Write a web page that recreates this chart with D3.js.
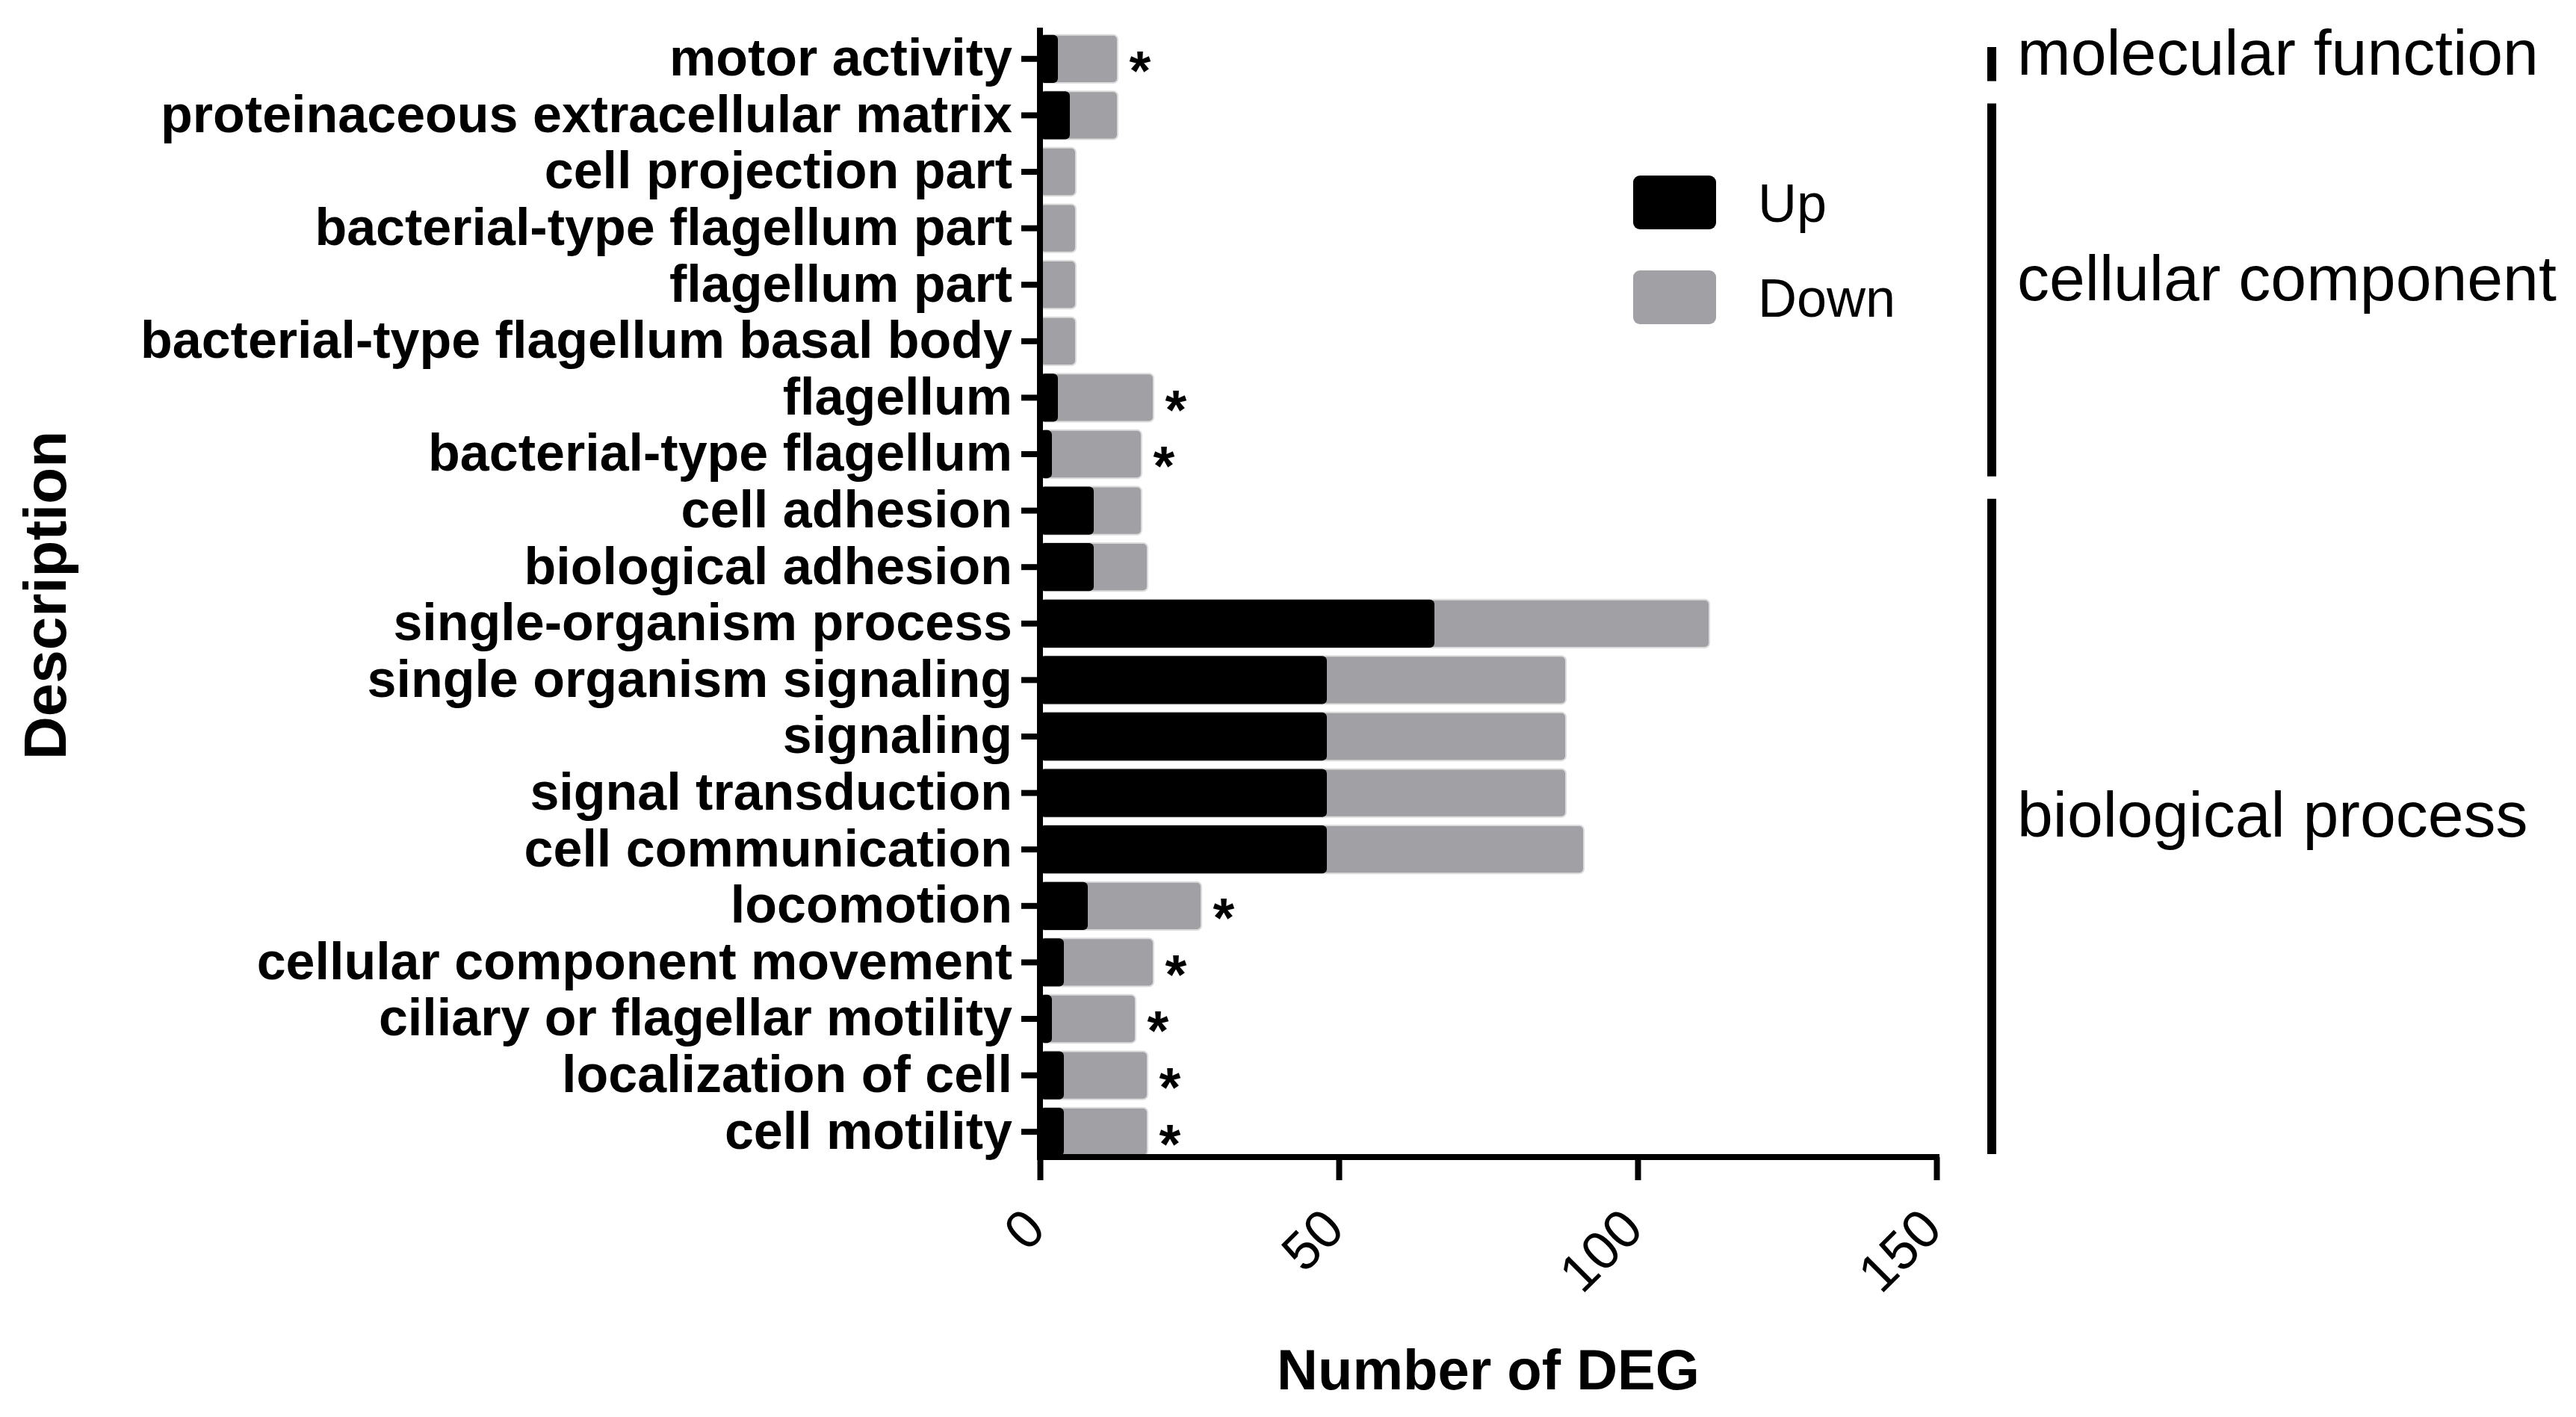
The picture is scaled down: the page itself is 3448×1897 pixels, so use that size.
<!DOCTYPE html>
<html>
<head>
<meta charset="utf-8">
<script src="https://cdn.jsdelivr.net/npm/d3@7"></script>
<style>
    body { margin: 0; background: #fff; }
    svg { display: block; }
</style>
</head>
<body>
<div id="chart"></div>
<script>
// GO terms, top to bottom
const categories = [
    "motor activity",
    "proteinaceous extracellular matrix",
    "cell projection part",
    "bacterial-type flagellum part",
    "flagellum part",
    "bacterial-type flagellum basal body",
    "flagellum",
    "bacterial-type flagellum",
    "cell adhesion",
    "biological adhesion",
    "single-organism process",
    "single organism signaling",
    "signaling",
    "signal transduction",
    "cell communication",
    "locomotion",
    "cellular component movement",
    "ciliary or flagellar motility",
    "localization of cell",
    "cell motility"
];
const upValues   = [3, 5, 0, 0, 0, 0, 3, 2, 9, 9, 66, 48, 48, 48, 48, 8, 4, 2, 4, 4];
const downValues = [10, 8, 6, 6, 6, 6, 16, 15, 8, 9, 46, 40, 40, 40, 43, 19, 15, 14, 14, 14];
const starred    = [1, 0, 0, 0, 0, 0, 1, 1, 0, 0, 0, 0, 0, 0, 0, 1, 1, 1, 1, 1];

const groupNames = ["molecular function", "cellular component", "biological process"];
const groupFirst = [0, 1, 8];
const groupLast  = [0, 7, 19];

const xTicks = [0, 50, 100, 150];
const seriesNames = ["Up", "Down"];
const seriesColors = ["#000000", "#a1a0a5"];

const W = 3448, H = 1897;
const font = "'Liberation Sans', Arial, Helvetica, sans-serif";

const svg = d3.select("#chart").append("svg")
    .attr("width", W)
    .attr("height", H)
    .style("font-family", font);

const x = d3.scaleLinear().domain([0, 150]).range([1392, 2592]);
const y = d3.scaleBand()
    .domain(categories)
    .range([41, 1553])
    .paddingInner(0.15)
    .paddingOuter(0.075);

const rows = categories.map((c, i) => ({
    name: c, up: upValues[i], down: downValues[i], star: starred[i]
}));
const stacked = d3.stack().keys(["up", "down"])(rows);

// bars: grey total first, black "up" part drawn over it
const barG = svg.append("g");
[stacked[1], stacked[0]].forEach((layer, k) => {
    const color = k === 0 ? seriesColors[1] : seriesColors[0];
    barG.append("g")
        .selectAll("rect")
        .data(layer.filter(d => d[1] > 0))
        .join("rect")
        .attr("x", x(0))
        .attr("y", d => y(d.data.name))
        .attr("width", d => x(d[1]) - x(0))
        .attr("height", y.bandwidth())
        .attr("rx", 6)
        .attr("fill", color)
        .attr("stroke", k === 0 ? "#dcdcdc" : "none")
        .attr("stroke-width", 2);
});

// significance stars
svg.append("g")
    .selectAll("text")
    .data(rows.filter(d => d.star))
    .join("text")
    .attr("x", d => x(d.up + d.down) + 30)
    .attr("y", d => y(d.name) + y.bandwidth() / 2)
    .attr("dy", "0.56em")
    .attr("text-anchor", "middle")
    .style("font-size", "74px")
    .style("font-weight", "bold")
    .text("*");

// y axis
const yAxis = svg.append("g")
    .attr("transform", `translate(${x(0)},0)`)
    .call(d3.axisLeft(y).tickSize(25).tickSizeOuter(0).tickPadding(12));
yAxis.select(".domain")
    .attr("stroke", "#000")
    .attr("stroke-width", 8)
    .attr("d", `M0,37V1553`);
yAxis.selectAll(".tick line").attr("stroke", "#000").attr("stroke-width", 8);
yAxis.selectAll(".tick text")
    .style("font-family", font)
    .style("font-size", "70px")
    .style("font-weight", "bold")
    .attr("fill", "#000");

// x axis
const xAxis = svg.append("g")
    .attr("transform", "translate(0,1549)")
    .call(d3.axisBottom(x).tickValues(xTicks).tickSize(31).tickSizeOuter(0));
xAxis.select(".domain")
    .attr("stroke", "#000")
    .attr("stroke-width", 8)
    .attr("d", `M${x(0) - 4},0H${x(150) + 4}`);
xAxis.selectAll(".tick line").attr("stroke", "#000").attr("stroke-width", 8);
xAxis.selectAll(".tick text")
    .attr("x", 0).attr("y", 0).attr("dy", 0)
    .attr("text-anchor", "end")
    .attr("transform", "translate(10,100) rotate(-45)")
    .style("font-family", font)
    .style("font-size", "72px")
    .attr("fill", "#000");

// axis titles
svg.append("text")
    .attr("x", x(75))
    .attr("y", 1860)
    .attr("text-anchor", "middle")
    .style("font-size", "76px")
    .style("font-weight", "bold")
    .text("Number of DEG");

svg.append("text")
    .attr("transform", `translate(88,${(y.range()[0] + y.range()[1]) / 2}) rotate(-90)`)
    .attr("text-anchor", "middle")
    .style("font-size", "80px")
    .style("font-weight", "bold")
    .text("Description");

// legend
const legend = svg.append("g").attr("transform", "translate(2186,235)");
seriesNames.forEach((name, i) => {
    const g = legend.append("g").attr("transform", `translate(0,${i * 127})`);
    g.append("rect")
        .attr("width", 111)
        .attr("height", 72)
        .attr("rx", 9)
        .attr("fill", seriesColors[i]);
    g.append("text")
        .attr("x", 167)
        .attr("y", 62)
        .style("font-size", "72px")
        .text(name);
});

// GO category brackets
const brackets = svg.append("g");
groupNames.forEach((name, i) => {
    const top = y(categories[groupFirst[i]]) - y.step() * y.paddingOuter() + 22;
    const bottom = y(categories[groupLast[i]]) + y.bandwidth() + y.step() * y.paddingOuter() - 8;
    brackets.append("line")
        .attr("x1", 2666).attr("x2", 2666)
        .attr("y1", top).attr("y2", bottom)
        .attr("stroke", "#000")
        .attr("stroke-width", 12);
    brackets.append("text")
        .attr("x", 2700)
        .attr("y", (top + bottom) / 2)
        .attr("dy", "0.16em")
        .style("font-size", "86px")
        .text(name);
});
</script>
</body>
</html>
